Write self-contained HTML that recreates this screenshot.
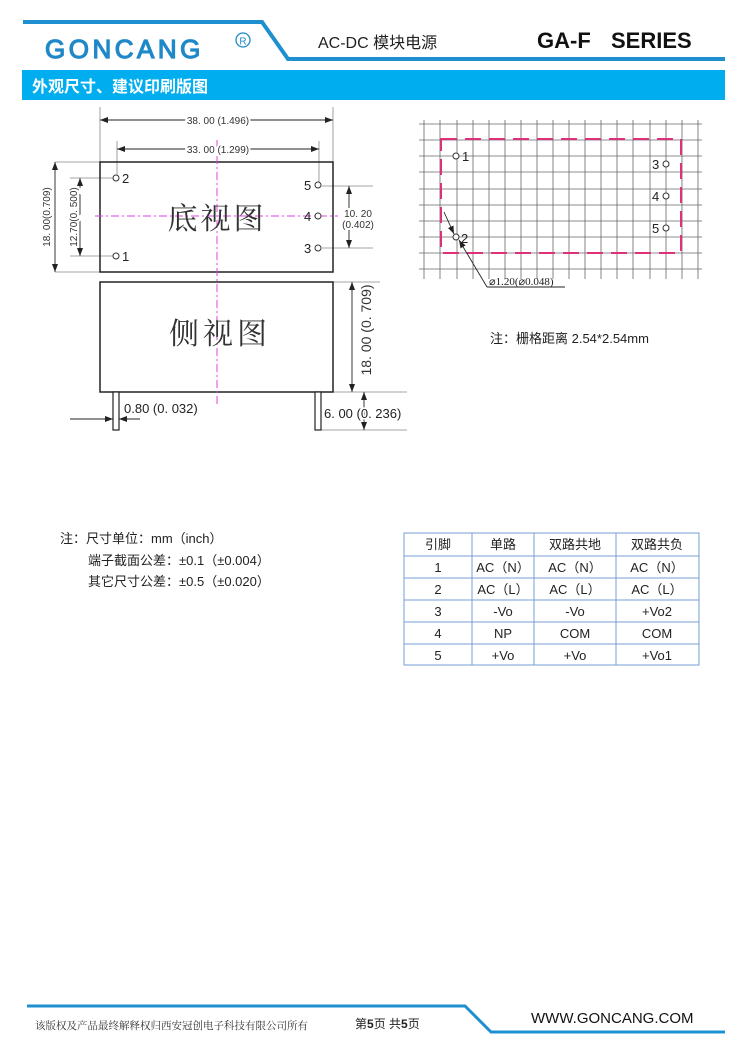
<!DOCTYPE html>
<html><head><meta charset="utf-8"><style>
html,body{margin:0;padding:0;background:#fff;}
svg{display:block;font-family:"Liberation Sans","Noto Sans CJK SC",sans-serif;}
.s{font-family:"Liberation Serif","Noto Serif CJK SC",serif;}
</style></head><body>
<svg width="750" height="1057" viewBox="0 0 750 1057" xmlns="http://www.w3.org/2000/svg">
<defs>
<marker id="a" markerWidth="8" markerHeight="6" refX="8" refY="3" orient="auto-start-reverse" markerUnits="userSpaceOnUse"><path d="M0,0 L8,3 L0,6 z" fill="#222"/></marker>
</defs>
<!-- header -->
<polyline points="23,22 262,22 288,59 725,59" fill="none" stroke="#1e90d0" stroke-width="4"/>
<text x="45" y="58" font-size="26" fill="#1e88c8" stroke="#1e88c8" stroke-width="1.2" letter-spacing="3.5">GONCANG</text>
<circle cx="243" cy="40" r="7" fill="none" stroke="#1e88c8" stroke-width="1.3"/>
<text x="243" y="44.5" font-size="10" fill="#1e88c8" text-anchor="middle">R</text>
<text x="318" y="48" font-size="16" fill="#222">AC-DC  模块电源</text>
<text x="537" y="48" font-size="22" font-weight="bold" fill="#111">GA-F</text>
<text x="611" y="48" font-size="22" font-weight="bold" fill="#111">SERIES</text>
<rect x="22" y="70" width="703" height="30" fill="#00aeef"/>
<text x="32" y="92" font-size="16" font-weight="bold" fill="#fff">外观尺寸、建议印刷版图</text>

<!-- left drawing -->
<g stroke="#888" stroke-width="0.8" fill="none">
<line x1="100" y1="107" x2="100" y2="162"/><line x1="333" y1="107" x2="333" y2="162"/>
<line x1="117" y1="141" x2="117" y2="176"/><line x1="319" y1="141" x2="319" y2="182"/>
<line x1="55" y1="162" x2="100" y2="162"/><line x1="55" y1="272" x2="100" y2="272"/>
<line x1="70" y1="178" x2="113" y2="178"/><line x1="70" y1="256" x2="113" y2="256"/>
<line x1="322" y1="186" x2="373" y2="186"/><line x1="322" y1="248" x2="373" y2="248"/>
<line x1="333" y1="282" x2="380" y2="282"/><line x1="333" y1="392" x2="407" y2="392"/>
<line x1="321" y1="430" x2="407" y2="430"/>
</g>
<g stroke="#222" stroke-width="0.9" fill="none">
<line x1="100" y1="120" x2="186" y2="120" marker-start="url(#a)"/><line x1="247" y1="120" x2="333" y2="120" marker-end="url(#a)"/>
<line x1="117" y1="149" x2="186" y2="149" marker-start="url(#a)"/><line x1="250" y1="149" x2="319" y2="149" marker-end="url(#a)"/>
<line x1="55" y1="162" x2="55" y2="272" marker-start="url(#a)" marker-end="url(#a)"/>
<line x1="80" y1="178" x2="80" y2="256" marker-start="url(#a)" marker-end="url(#a)"/>
<line x1="349" y1="186" x2="349" y2="208" marker-start="url(#a)"/><line x1="349" y1="230" x2="349" y2="248" marker-end="url(#a)"/>
<line x1="352" y1="282" x2="352" y2="392" marker-start="url(#a)" marker-end="url(#a)"/>
<line x1="70" y1="419" x2="113" y2="419" marker-end="url(#a)"/><line x1="140" y1="419" x2="119" y2="419" marker-end="url(#a)"/>
<line x1="364" y1="392" x2="364" y2="430" marker-start="url(#a)" marker-end="url(#a)"/>
</g>
<rect x="100" y="162" width="233" height="110" fill="none" stroke="#222" stroke-width="1.5"/>
<rect x="100" y="282" width="233" height="110" fill="none" stroke="#222" stroke-width="1.5"/>
<rect x="113" y="392" width="6" height="38" fill="#fff" stroke="#222" stroke-width="1.2"/>
<rect x="315" y="392" width="6" height="38" fill="#fff" stroke="#222" stroke-width="1.2"/>
<g stroke="#e040e0" stroke-width="1" stroke-dasharray="8,3,2,3">
<line x1="95" y1="216" x2="338" y2="216"/><line x1="217" y1="140" x2="217" y2="405"/>
</g>
<g fill="#fff" stroke="#333" stroke-width="1">
<circle cx="116" cy="178" r="3"/><circle cx="116" cy="256" r="3"/>
<circle cx="318" cy="185" r="3"/><circle cx="318" cy="216" r="3"/><circle cx="318" cy="248" r="3"/>
</g>
<g font-size="13" fill="#222">
<text x="122" y="183">2</text><text x="122" y="261">1</text>
<text x="304" y="190">5</text><text x="304" y="221">4</text><text x="304" y="253">3</text>
</g>
<g font-size="10" fill="#333">
<text x="218" y="124" text-anchor="middle" fill="#333"><tspan style="paint-order:stroke" stroke="#fff" stroke-width="4">38. 00 (1.496)</tspan></text>
<text x="218" y="153" text-anchor="middle"><tspan style="paint-order:stroke" stroke="#fff" stroke-width="4">33. 00 (1.299)</tspan></text>
<text transform="translate(50,217) rotate(-90)" text-anchor="middle">18. 00(0.709)</text>
<text transform="translate(77,217) rotate(-90)" text-anchor="middle"><tspan style="paint-order:stroke" stroke="#fff" stroke-width="4">12.70(0. 500)</tspan></text>
<text x="358" y="217" text-anchor="middle">10. 20</text>
<text x="358" y="228" text-anchor="middle">(0.402)</text>
</g>
<text transform="translate(371,330) rotate(-90)" font-size="14" fill="#333" text-anchor="middle">18. 00 (0. 709)</text>
<text x="124" y="413" font-size="13" fill="#222">0.80 (0. 032)</text>
<text x="324" y="418" font-size="13" fill="#222"><tspan style="paint-order:stroke" stroke="#fff" stroke-width="3">6. 00 (0. 236)</tspan></text>
<text x="217" y="229" font-size="30" fill="#333" text-anchor="middle" class="s" letter-spacing="3">底视图</text>
<text x="220" y="344" font-size="30" fill="#333" text-anchor="middle" class="s" letter-spacing="4">侧视图</text>

<!-- grid -->
<g stroke="#666" stroke-width="0.8">
<line x1="424" y1="120" x2="424" y2="279"/><line x1="440" y1="120" x2="440" y2="279"/><line x1="457" y1="120" x2="457" y2="279"/><line x1="473" y1="120" x2="473" y2="279"/><line x1="489" y1="120" x2="489" y2="279"/><line x1="505" y1="120" x2="505" y2="279"/><line x1="521" y1="120" x2="521" y2="279"/><line x1="537" y1="120" x2="537" y2="279"/><line x1="553" y1="120" x2="553" y2="279"/><line x1="569" y1="120" x2="569" y2="279"/><line x1="585" y1="120" x2="585" y2="279"/><line x1="601" y1="120" x2="601" y2="279"/><line x1="617" y1="120" x2="617" y2="279"/><line x1="633" y1="120" x2="633" y2="279"/><line x1="650" y1="120" x2="650" y2="279"/><line x1="666" y1="120" x2="666" y2="279"/><line x1="682" y1="120" x2="682" y2="279"/><line x1="698" y1="120" x2="698" y2="279"/>
<line x1="419" y1="124" x2="702" y2="124"/><line x1="419" y1="140" x2="702" y2="140"/><line x1="419" y1="156" x2="702" y2="156"/><line x1="419" y1="172" x2="702" y2="172"/><line x1="419" y1="189" x2="702" y2="189"/><line x1="419" y1="205" x2="702" y2="205"/><line x1="419" y1="221" x2="702" y2="221"/><line x1="419" y1="237" x2="702" y2="237"/><line x1="419" y1="253" x2="702" y2="253"/><line x1="419" y1="269" x2="702" y2="269"/>
</g>
<rect x="441" y="139" width="240" height="114" fill="none" stroke="#e0307a" stroke-width="2" stroke-dasharray="16,8"/>
<g fill="#fff" stroke="#333" stroke-width="1">
<circle cx="456" cy="156" r="3"/><circle cx="456" cy="237" r="3"/>
<circle cx="666" cy="164" r="3"/><circle cx="666" cy="196" r="3"/><circle cx="666" cy="228" r="3"/>
</g>
<g font-size="13" fill="#222">
<text x="462" y="161">1</text><text x="461" y="243">2</text>
<text x="652" y="169">3</text><text x="652" y="201">4</text><text x="652" y="233">5</text>
</g>
<g stroke="#222" stroke-width="0.9" fill="none">
<line x1="444" y1="212" x2="454" y2="234" marker-end="url(#a)"/>
<line x1="487" y1="287" x2="459" y2="240" marker-end="url(#a)"/>
<line x1="487" y1="287" x2="565" y2="287"/>
</g>
<text x="489" y="285" font-size="11" fill="#222" class="s">⌀1.20(⌀0.048)</text>
<text x="490" y="343" font-size="13" fill="#222">注：栅格距离 2.54*2.54mm</text>

<!-- notes -->
<g font-size="13" fill="#222">
<text x="60" y="543">注：尺寸单位：mm（inch）</text>
<text x="88" y="565">端子截面公差：±0.1（±0.004）</text>
<text x="88" y="586">其它尺寸公差：±0.5（±0.020）</text>
</g>
<!-- table -->
<g stroke="#7a9fd6" stroke-width="1" fill="none">
<rect x="404" y="533" width="295" height="132"/>
<line x1="472" y1="533" x2="472" y2="665"/><line x1="534" y1="533" x2="534" y2="665"/><line x1="616" y1="533" x2="616" y2="665"/>
<line x1="404" y1="556" x2="699" y2="556"/><line x1="404" y1="578" x2="699" y2="578"/><line x1="404" y1="600" x2="699" y2="600"/><line x1="404" y1="622" x2="699" y2="622"/><line x1="404" y1="644" x2="699" y2="644"/>
</g>
<g font-size="13" fill="#222" text-anchor="middle">
<text x="438" y="549">引脚</text><text x="503" y="549">单路</text><text x="575" y="549">双路共地</text><text x="657" y="549">双路共负</text>
<text x="438" y="572">1</text><text x="503" y="572">AC（N）</text><text x="575" y="572">AC（N）</text><text x="657" y="572">AC（N）</text>
<text x="438" y="594">2</text><text x="503" y="594">AC（L）</text><text x="575" y="594">AC（L）</text><text x="657" y="594">AC（L）</text>
<text x="438" y="616">3</text><text x="503" y="616">-Vo</text><text x="575" y="616">-Vo</text><text x="657" y="616">+Vo2</text>
<text x="438" y="638">4</text><text x="503" y="638">NP</text><text x="575" y="638">COM</text><text x="657" y="638">COM</text>
<text x="438" y="660">5</text><text x="503" y="660">+Vo</text><text x="575" y="660">+Vo</text><text x="657" y="660">+Vo1</text>
</g>

<!-- footer -->
<polyline points="27,1006 465,1006 491,1032 725,1032" fill="none" stroke="#1e90d0" stroke-width="3"/>
<text x="35" y="1029" font-size="10.5" fill="#333" class="s">该版权及产品最终解释权归西安冠创电子科技有限公司所有</text>
<text x="355" y="1028" font-size="12" fill="#222">第<tspan font-weight="bold">5</tspan>页 共<tspan font-weight="bold">5</tspan>页</text>
<text x="531" y="1023" font-size="15" fill="#111">WWW.GONCANG.COM</text>
</svg>
</body></html>
